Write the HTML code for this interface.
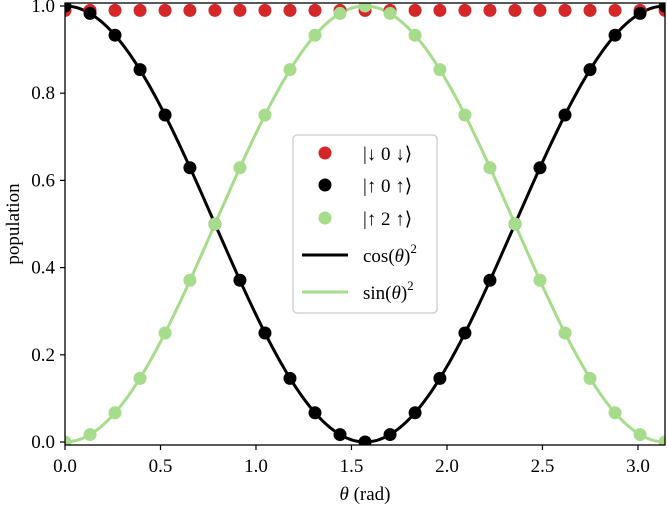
<!DOCTYPE html>
<html><head><meta charset="utf-8"><style>
body{margin:0;background:#fff}
text{font-family:"Liberation Serif","DejaVu Serif",serif;fill:#000}
</style></head><body>
<svg id="chart" width="667" height="506" viewBox="0 0 667 506" xmlns="http://www.w3.org/2000/svg">
<defs><clipPath id="clip"><rect x="65" y="3" width="600" height="442"/></clipPath></defs>
<g id="curves" clip-path="url(#clip)"></g>
<rect x="65" y="3" width="600" height="442" fill="none" stroke="#000" stroke-width="1.3"/>
<g id="ticks"></g>
<text x="365" y="500" font-size="19" text-anchor="middle"><tspan font-style="italic">θ</tspan> (rad)</text>
<text transform="translate(19,224) rotate(-90)" font-size="19" text-anchor="middle">population</text>
<g>
<rect x="293" y="135" width="144" height="178" rx="4" fill="#fff" fill-opacity="0.85" stroke="#ccc" stroke-width="1.3"/>
<circle cx="325" cy="153" r="6.5" fill="#d62728"/>
<text x="363" y="160" font-size="19">|↓ 0 ↓⟩</text>
<circle cx="325" cy="185" r="6.5" fill="#000"/>
<text x="363" y="192" font-size="19">|↑ 0 ↑⟩</text>
<circle cx="325" cy="218" r="6.5" fill="#a6dc8b"/>
<text x="363" y="225" font-size="19">|↑ 2 ↑⟩</text>
<line x1="302" y1="255" x2="348" y2="255" stroke="#000" stroke-width="3"/>
<text x="363" y="262" font-size="19">cos(<tspan font-style="italic">θ</tspan>)<tspan dy="-9" font-size="13">2</tspan></text>
<line x1="302" y1="292" x2="348" y2="292" stroke="#a6dc8b" stroke-width="3"/>
<text x="363" y="299" font-size="19">sin(<tspan font-style="italic">θ</tspan>)<tspan dy="-9" font-size="13">2</tspan></text>
</g>
</svg>
<script>
const xTicks=[0,0.5,1.0,1.5,2.0,2.5,3.0];
const xTickLabels=["0.0","0.5","1.0","1.5","2.0","2.5","3.0"];
const yTicks=[0,0.2,0.4,0.6,0.8,1.0];
const yTickLabels=["0.0","0.2","0.4","0.6","0.8","1.0"];
const thetas=[0,0.131,0.262,0.393,0.524,0.654,0.785,0.916,1.047,1.178,1.309,1.440,1.571,1.702,1.833,1.963,2.094,2.225,2.356,2.487,2.618,2.749,2.880,3.011,3.142];
const downVals=[0.99,0.99,0.99,0.99,0.99,0.99,0.99,0.99,0.99,0.99,0.99,0.99,0.99,0.99,0.99,0.99,0.99,0.99,0.99,0.99,0.99,0.99,0.99,0.99,0.99];
const up0Vals=[1.0,0.983,0.933,0.854,0.75,0.629,0.5,0.371,0.25,0.146,0.067,0.017,0.0,0.017,0.067,0.146,0.25,0.371,0.5,0.629,0.75,0.854,0.933,0.983,1.0];
const up2Vals=[0.0,0.017,0.067,0.146,0.25,0.371,0.5,0.629,0.75,0.854,0.933,0.983,1.0,0.983,0.933,0.854,0.75,0.629,0.5,0.371,0.25,0.146,0.067,0.017,0.0];
const X=v=>65+v*600/Math.PI;
const Y=v=>442-v*436;
const NS="http://www.w3.org/2000/svg";
const svg=document.getElementById('chart'),g=document.getElementById('curves'),tk=document.getElementById('ticks');
function mk(t,a,p){const e=document.createElementNS(NS,t);for(const k in a)e.setAttribute(k,a[k]);p.appendChild(e);return e;}
let dc="",ds="";
for(let i=0;i<=200;i++){const t=Math.PI*i/200;dc+=(i?"L":"M")+X(t)+","+Y(Math.cos(t)**2);ds+=(i?"L":"M")+X(t)+","+Y(Math.sin(t)**2);}
const pc=mk('path',{d:dc,fill:'none',stroke:'#000','stroke-width':3},g);


const ps=mk('path',{d:ds,fill:'none',stroke:'#a6dc8b','stroke-width':3},g);


[[downVals,'#d62728','down0down'],[up0Vals,'#000','up0up'],[up2Vals,'#a6dc8b','up2up']].forEach(([vals,col,nm])=>{
 thetas.forEach((t,i)=>{const c=mk('circle',{cx:X(t),cy:Y(vals[i]),r:6.5,fill:col},g);
 
 });
});
xTicks.forEach((v,i)=>{const l=mk('line',{x1:X(v),x2:X(v),y1:445,y2:450,stroke:'#000','stroke-width':1.2},tk);
 
 
 const t=mk('text',{x:X(v),y:472,'font-size':19,'text-anchor':'middle'},tk);t.textContent=xTickLabels[i];
 
 });
yTicks.forEach((v,i)=>{const l=mk('line',{x1:60,x2:65,y1:Y(v),y2:Y(v),stroke:'#000','stroke-width':1.2},tk);
 
 
 const t=mk('text',{x:55,y:Y(v)+6,'font-size':19,'text-anchor':'end'},tk);t.textContent=yTickLabels[i];
 
 });
</script>
</body></html>
